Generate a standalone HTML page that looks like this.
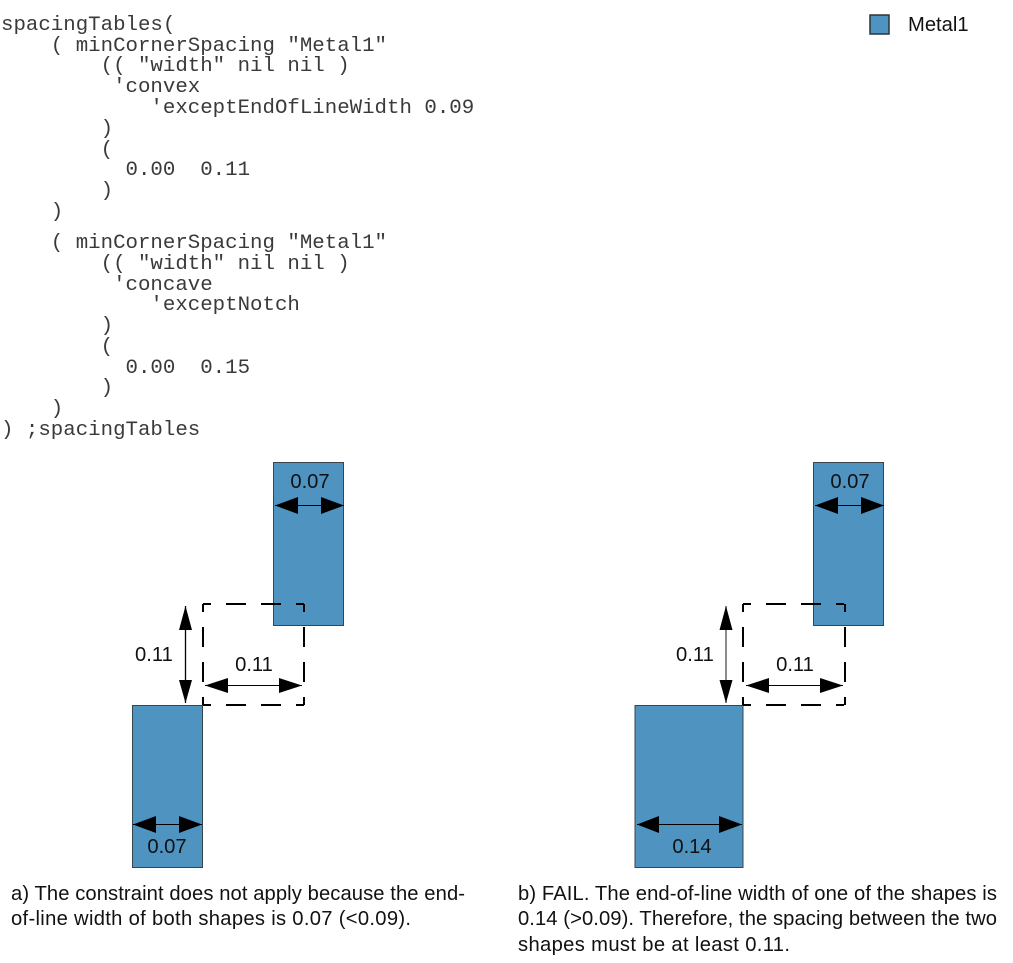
<!DOCTYPE html>
<html><head><meta charset="utf-8"><style>
html,body{margin:0;padding:0;background:#fff}
svg{display:block}
.m{font-family:"Liberation Mono",monospace;font-size:20.75px;fill:#3a3a3a;white-space:pre}
.s{font-family:"Liberation Sans",sans-serif;font-size:20.2px;fill:#111}
.c{text-anchor:middle}
.r{fill:#4f93c1;stroke:#38444e;stroke-width:1}
.d{fill:none;stroke:#000;stroke-width:2;stroke-dasharray:8 15 20 15 20 15 8 100}
.l{stroke:#000;stroke-width:1}
</style></head><body>
<svg width="1013" height="963" viewBox="0 0 1013 963" xmlns="http://www.w3.org/2000/svg">
<g class="m" xml:space="preserve">
<text x="1" y="30" xml:space="preserve">spacingTables(</text>
<text x="1" y="51" xml:space="preserve">    ( minCornerSpacing "Metal1"</text>
<text x="1" y="71" xml:space="preserve">        (( "width" nil nil )</text>
<text x="1" y="92" xml:space="preserve">         'convex</text>
<text x="1" y="113" xml:space="preserve">            'exceptEndOfLineWidth 0.09</text>
<text x="1" y="134" xml:space="preserve">        )</text>
<text x="1" y="155" xml:space="preserve">        (</text>
<text x="1" y="175" xml:space="preserve">          0.00  0.11</text>
<text x="1" y="196" xml:space="preserve">        )</text>
<text x="1" y="217" xml:space="preserve">    )</text>
<text x="1" y="248" xml:space="preserve">    ( minCornerSpacing "Metal1"</text>
<text x="1" y="269" xml:space="preserve">        (( "width" nil nil )</text>
<text x="1" y="290" xml:space="preserve">         'concave</text>
<text x="1" y="310" xml:space="preserve">            'exceptNotch</text>
<text x="1" y="331" xml:space="preserve">        )</text>
<text x="1" y="352" xml:space="preserve">        (</text>
<text x="1" y="373" xml:space="preserve">          0.00  0.15</text>
<text x="1" y="393" xml:space="preserve">        )</text>
<text x="1" y="414" xml:space="preserve">    )</text>
<text x="1" y="435" xml:space="preserve">) ;spacingTables</text>
</g>

<rect x="870" y="15" width="19" height="19" fill="#4f93c1" stroke="#2c343a" stroke-width="1.500"/>
<text class="s" x="908" y="31">Metal1</text>

<!-- a -->
<rect class="r" x="273.500" y="462.500" width="70" height="163"/>
<rect class="r" x="132.500" y="705.500" width="70" height="162"/>
<path class="d" d="M203 604H304"/>
<path class="d" d="M203 705H304"/>
<path class="d" d="M203 604V705"/>
<path class="d" d="M304 604V705"/>
<text class="s c" x="310" y="488">0.07</text>
<line class="l" x1="275" x2="344" y1="505.500" y2="505.500"/>
<path d="M275 505.500L298 497V514Z M344 505.500L321 497V514Z"/>
<line x1="185.500" x2="185.500" y1="606" y2="703" stroke="#000" stroke-width="1.300"/>
<path d="M185.500 606L179 630H192Z M185.500 703L179 680H192Z"/>
<text class="s" x="135" y="661">0.11</text>
<text class="s c" x="254" y="671">0.11</text>
<line class="l" x1="205" x2="302" y1="685.500" y2="685.500"/>
<path d="M205 685.500L228 678V693Z M302 685.500L279 678V693Z"/>
<line class="l" x1="133" x2="202" y1="824.500" y2="824.500"/>
<path d="M133 824.500L156 816V833Z M202 824.500L179 816V833Z"/>
<text class="s c" x="167" y="853">0.07</text>

<!-- b -->
<rect class="r" x="813.500" y="462.500" width="70" height="163"/>
<rect class="r" x="635" y="705.500" width="108" height="162"/>
<path class="d" d="M743 604H845"/>
<path class="d" d="M743 705H845"/>
<path class="d" d="M743 604V705"/>
<path class="d" d="M845 604V705"/>
<text class="s c" x="850" y="488">0.07</text>
<line class="l" x1="815" x2="884" y1="505.500" y2="505.500"/>
<path d="M815 505.500L838 497V514Z M884 505.500L861 497V514Z"/>
<line x1="726" x2="726" y1="606" y2="703" stroke="#666" stroke-width="1.500"/>
<path d="M726 606L719.500 630H732.500Z M726 703L719.500 680H732.500Z"/>
<text class="s" x="676" y="661">0.11</text>
<text class="s c" x="795" y="671">0.11</text>
<line class="l" x1="746" x2="843" y1="685.500" y2="685.500"/>
<path d="M746 685.500L769 678V693Z M843 685.500L820 678V693Z"/>
<line class="l" x1="637" x2="742" y1="824.500" y2="824.500"/>
<path d="M637 824.500L659 816V833Z M742 824.500L719 816V833Z"/>
<text class="s c" x="692" y="853">0.14</text>

<text class="s" x="11" y="900" textLength="454">a) The constraint does not apply because the end-</text>
<text class="s" x="11" y="925" textLength="400">of-line width of both shapes is 0.07 (&lt;0.09).</text>
<text class="s" x="518" y="900" textLength="479">b) FAIL. The end-of-line width of one of the shapes is</text>
<text class="s" x="518" y="925" textLength="479">0.14 (&gt;0.09). Therefore, the spacing between the two</text>
<text class="s" x="518" y="951" textLength="272">shapes must be at least 0.11.</text>
</svg>
</body></html>
